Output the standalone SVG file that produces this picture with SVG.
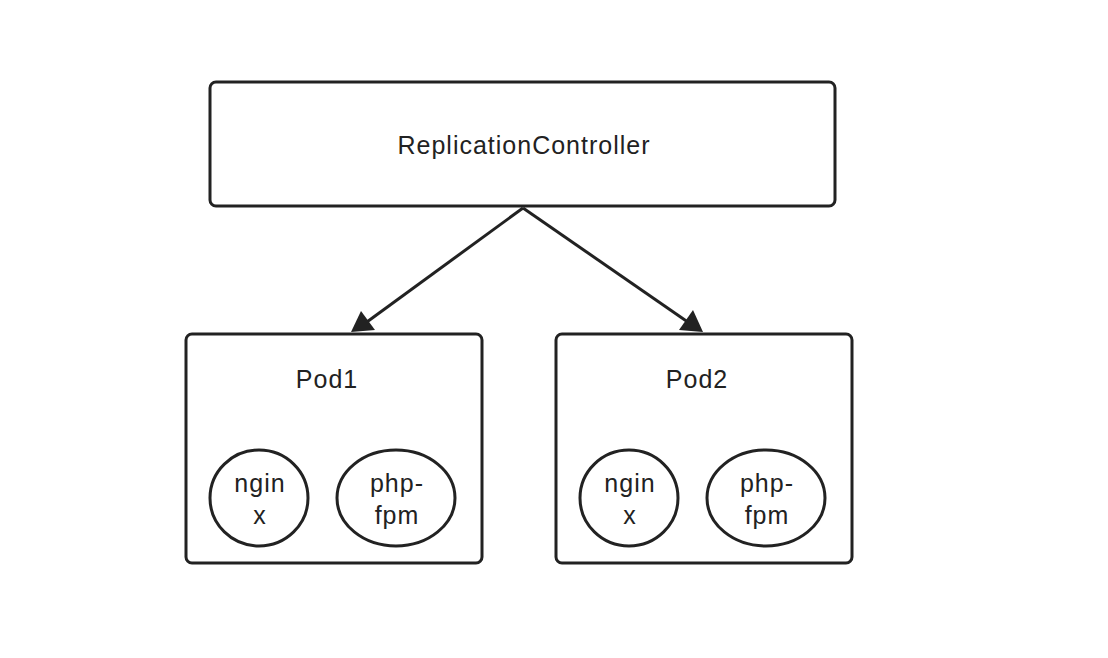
<svg xmlns="http://www.w3.org/2000/svg" width="1108" height="658" viewBox="0 0 1108 658">
<style>
.box{fill:#fff;stroke:#222;stroke-width:3}
.ell{fill:#fff;stroke:#222;stroke-width:3}
.t{font-family:"Liberation Sans",Arial,sans-serif;font-size:25px;letter-spacing:1px;fill:#222;text-anchor:middle}
.edge{stroke:#222;stroke-width:3;fill:none}
</style>
<rect width="1108" height="658" fill="#fff"/>
<g id="connectors">
<path class="edge" d="M523,208 L360,327"/>
<path class="edge" d="M523,208 L695,327"/>
<polygon points="351,332 361,311 375,330" fill="#222"/>
<polygon points="703,332 679,330 693,310" fill="#222"/>
</g>
<g id="rc">
<rect class="box" x="210" y="82" width="625" height="124" rx="6"/>
<text class="t" x="524" y="154">ReplicationController</text>
</g>
<g id="pod1">
<rect class="box" x="186" y="334" width="296" height="229" rx="6"/>
<text class="t" x="327" y="388">Pod1</text>
</g>
<g id="pod1-nginx">
<ellipse class="ell" cx="259" cy="498" rx="49" ry="48"/>
<text class="t" x="260" y="492">ngin</text>
<text class="t" x="260" y="524">x</text>
</g>
<g id="pod1-php">
<ellipse class="ell" cx="396" cy="498" rx="59" ry="48"/>
<text class="t" x="397" y="492">php-</text>
<text class="t" x="397" y="524">fpm</text>
</g>
<g id="pod2">
<rect class="box" x="556" y="334" width="296" height="229" rx="6"/>
<text class="t" x="697" y="388">Pod2</text>
</g>
<g id="pod2-nginx">
<ellipse class="ell" cx="629" cy="498" rx="49" ry="48"/>
<text class="t" x="630" y="492">ngin</text>
<text class="t" x="630" y="524">x</text>
</g>
<g id="pod2-php">
<ellipse class="ell" cx="766" cy="498" rx="59" ry="48"/>
<text class="t" x="767" y="492">php-</text>
<text class="t" x="767" y="524">fpm</text>
</g>
</svg>
